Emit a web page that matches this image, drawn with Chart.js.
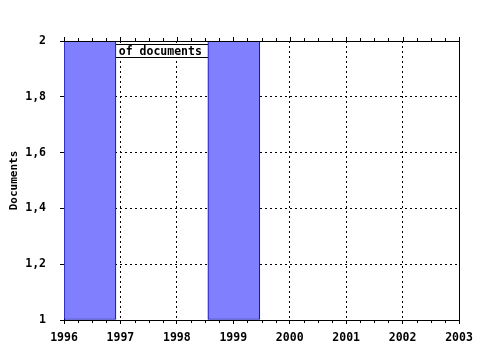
<!DOCTYPE html>
<html>
<head>
<meta charset="utf-8">
<script src="https://cdn.jsdelivr.net/npm/chart.js@4/dist/chart.umd.min.js"></script>
<style>
  html, body { margin: 0; padding: 0; background: #fff; }
  #wrap { width: 480px; height: 350px; }
</style>
</head>
<body>
<div id="wrap"><canvas id="chart" width="480" height="350"></canvas></div>
<script>
// data
const barCenters = [1996.46, 1999.01];
const barValues = [2, 2];
const yearTicks = [1996, 1997, 1998, 1999, 2000, 2001, 2002, 2003];
const yTickLabels = ['1', '1,2', '1,4', '1,6', '1,8', '2'];
const legendText = 'of documents';
const yTitle = 'Documents';

const monoBold = "'DejaVu Sans Mono', 'Liberation Mono', monospace";

// only the inner grid lines are dotted, the frame is solid
const innerGrid = (c) => (c.index === 0 || c.index === c.scale.ticks.length - 1) ? 'rgba(0,0,0,0)' : '#000';

// minor ticks on top and bottom axes, plus the partly covered legend box
const extras = {
    id: 'extras',
    beforeDatasetsDraw(chart) {
        const { ctx, chartArea: a, scales: { x } } = chart;
        ctx.save();
        // legend box sits under the bars
        const bx0 = x.getPixelForValue(1996.6);
        const bx1 = x.getPixelForValue(1998.8);
        ctx.fillStyle = '#fff';
        ctx.fillRect(bx0, a.top + 3, bx1 - bx0, 13);
        ctx.strokeStyle = '#000';
        ctx.lineWidth = 1;
        ctx.strokeRect(bx0 + 0.5, a.top + 3.5, bx1 - bx0, 13);
        ctx.fillStyle = '#000';
        ctx.font = 'bold 11.5px ' + monoBold;
        ctx.textBaseline = 'alphabetic';
        ctx.fillText(legendText, x.getPixelForValue(1996.9) + 4, a.top + 13.5);
        ctx.restore();
    },
    afterDraw(chart) {
        const { ctx, chartArea: a, scales: { x } } = chart;
        ctx.save();
        ctx.strokeStyle = '#000';
        ctx.lineWidth = 1;
        ctx.beginPath();
        for (let v = yearTicks[0]; v <= yearTicks[yearTicks.length - 1] + 0.001; v += 0.25) {
            const px = Math.round(x.getPixelForValue(v)) + 0.5;
            const major = Math.abs(v - Math.round(v)) < 0.001;
            ctx.moveTo(px, a.top);
            ctx.lineTo(px, a.top - (major ? 4 : 3));
            if (!major) {
                ctx.moveTo(px, a.bottom);
                ctx.lineTo(px, a.bottom + 3);
            }
        }
        ctx.stroke();
        // right and top border
        ctx.beginPath();
        ctx.moveTo(a.left, Math.round(a.top) + 0.5);
        ctx.lineTo(a.right + 1, Math.round(a.top) + 0.5);
        ctx.moveTo(Math.round(a.right) + 0.5, a.top);
        ctx.lineTo(Math.round(a.right) + 0.5, a.bottom + 4);
        ctx.stroke();
        ctx.restore();
    }
};

const ctx = document.getElementById('chart').getContext('2d');
new Chart(ctx, {
    type: 'bar',
    data: {
        datasets: [{
            label: legendText,
            data: barCenters.map((c, i) => ({ x: c, y: barValues[i] })),
            backgroundColor: '#8080ff',
            borderColor: '#0000b0',
            borderWidth: 1,
            borderSkipped: false,
            barThickness: 52,
            base: 1
        }]
    },
    options: {
        responsive: false,
        animation: false,
        layout: { padding: { top: 41, right: 21, left: 0, bottom: 0 } },
        plugins: {
            legend: { display: false },
            tooltip: { enabled: false }
        },
        scales: {
            x: {
                type: 'linear',
                min: yearTicks[0],
                max: yearTicks[yearTicks.length - 1],
                offset: false,
                afterBuildTicks: (s) => { s.ticks = yearTicks.map(v => ({ value: v })); },
                afterFit: (s) => { s.height = 30; },
                ticks: {
                    color: '#000',
                    font: { family: monoBold, size: 11.5, weight: 'bold' },
                    padding: 7,
                    maxRotation: 0,
                    callback: (v) => String(v)
                },
                grid: {
                    offset: false,
                    color: innerGrid,
                    lineWidth: 1,
                    tickLength: 4,
                    tickColor: '#000'
                },
                border: { color: '#000', dash: [2, 3] }
            },
            y: {
                min: 1,
                max: 2,
                afterBuildTicks: (s) => { s.ticks = yTickLabels.map((t, i) => ({ value: 1 + i * 0.2 })); },
                afterFit: (s) => { s.width = 64; },
                ticks: {
                    color: '#000',
                    font: { family: monoBold, size: 11.5, weight: 'bold' },
                    padding: 14,
                    callback: (v, i) => yTickLabels[i]
                },
                grid: {
                    color: innerGrid,
                    lineWidth: 1,
                    tickLength: 4,
                    tickColor: '#000'
                },
                border: { color: '#000', dash: [2, 3] },
                title: {
                    display: true,
                    text: yTitle,
                    color: '#000',
                    font: { family: monoBold, size: 11, weight: 'bold' },
                    padding: { top: 8, bottom: 4 }
                }
            }
        }
    },
    plugins: [extras]
});
</script>
</body>
</html>
